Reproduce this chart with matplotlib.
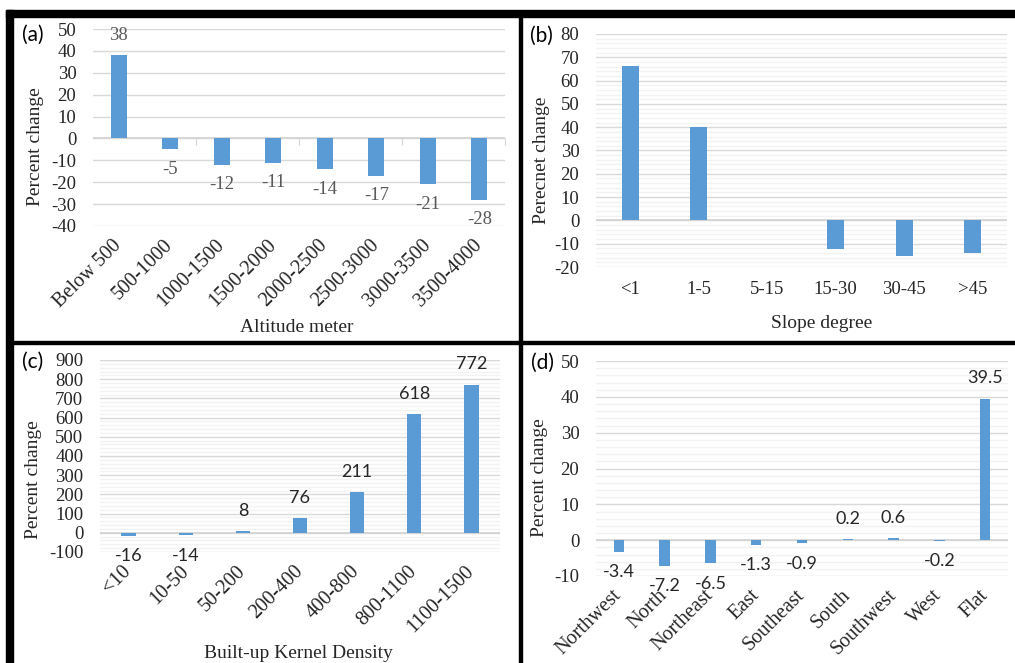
import numpy as np
import matplotlib.pyplot as plt
from matplotlib.patches import Rectangle
from matplotlib.ticker import MultipleLocator

# Panel (a): altitude classes
ALT_CATS = ['Below 500', '500-1000', '1000-1500', '1500-2000',
            '2000-2500', '2500-3000', '3000-3500', '3500-4000']
ALT_VALS = [38, -5, -12, -11, -14, -17, -21, -28]

# Panel (b): slope classes (no labels in the picture)
SLOPE_CATS = ['<1', '1-5', '5-15', '15-30', '30-45', '>45']
SLOPE_VALS = [66.3, 40.0, 0.0, -12.4, -15.2, -14.0]

# Panel (c): built-up kernel density
KD_CATS = ['<10', '10-50', '50-200', '200-400', '400-800', '800-1100', '1100-1500']
KD_VALS = [-16, -14, 8, 76, 211, 618, 772]

# Panel (d): aspect
ASP_CATS = ['Northwest', 'North', 'Northeast', 'East', 'Southeast',
            'South', 'Southwest', 'West', 'Flat']
ASP_VALS = [-3.4, -7.2, -6.5, -1.3, -0.9, 0.2, 0.6, -0.2, 39.5]

W, H = 1015, 663
BLUE = '#5B9BD5'
TXT = '#262626'
SERIF = 'Liberation Serif'
SANS = 'Lato'

plt.rcParams['axes.unicode_minus'] = False
plt.rcParams['font.family'] = SERIF

fig = plt.figure(figsize=(W / 100, H / 100), dpi=100)


def px_rect(x0, y0, x1, y1):
    """Pixel box (top-left origin) -> figure fraction rect"""
    return [x0 / W, 1 - y1 / H, (x1 - x0) / W, (y1 - y0) / H]


def fig_text(x, y, s, **kw):
    """Place text by pixel position"""
    fig.text(x / W, 1 - y / H, s, ha='center', va='center', **kw)


def bar_panel(rect, cats, vals, ylim, step, minor, bar_w, rotate):
    """Excel-like column chart"""
    ax = fig.add_axes(px_rect(*rect))
    x = np.arange(len(cats))
    ax.bar(x, vals, width=bar_w, color=BLUE, zorder=3)
    ax.set_xlim(-0.5, len(cats) - 0.5)
    ax.set_ylim(*ylim)
    ax.yaxis.set_major_locator(MultipleLocator(step))
    if minor:
        ax.yaxis.set_minor_locator(MultipleLocator(minor))
        ax.grid(which='minor', axis='y', color='#F2F2F2', lw=1)
    ax.grid(which='major', axis='y', color='#D9D9D9', lw=1)
    ax.set_axisbelow(True)
    for s in ax.spines.values():
        s.set_visible(False)
    ax.axhline(0, color='#D4D4D4', lw=1.3, zorder=2)
    ax.tick_params(axis='both', which='both', length=0)
    ax.tick_params(axis='y', pad=12, labelsize=13.5, labelcolor=TXT)
    ax.set_xticks(x)
    if rotate:
        ax.set_xticklabels(cats, rotation=45, ha='right', va='center',
                           rotation_mode='anchor', fontsize=14.5, color=TXT)
        ax.tick_params(axis='x', pad=12)
    else:
        ax.set_xticklabels(cats, fontsize=13.5, color=TXT)
        ax.tick_params(axis='x', pad=10)
    return ax


def value_labels(ax, vals, fmt, **kw):
    """Data labels outside the bar end"""
    for i, v in enumerate(vals):
        off = 14.5 if v > 0 else -14.5
        ax.annotate(fmt.format(v), (i, v), xytext=(0, off), textcoords='offset points',
                    ha='center', va='center', **kw)


# (a) Altitude
ax_a = bar_panel((93, 29, 505, 226), ALT_CATS, ALT_VALS, (-40, 50), 10, None, 0.32, True)
value_labels(ax_a, ALT_VALS, '{:d}', fontsize=13.5, color='#595959', family=SERIF)
# small tick marks on the horizontal axis
frac = 40 / 90
sec = ax_a.secondary_xaxis(frac)
sec.set_xticks(np.arange(1.5, len(ALT_CATS), 2))
sec.tick_params(axis='x', direction='out', length=5, color='#D4D4D4',
                bottom=True, top=False, labelbottom=False, labeltop=False)
for s in sec.spines.values():
    s.set_visible(False)

# (b) Slope
ax_b = bar_panel((596, 34, 1007, 267), SLOPE_CATS, SLOPE_VALS, (-20, 80), 10, 2, 0.25, False)

# (c) Kernel density
ax_c = bar_panel((100, 360, 500, 552), KD_CATS, KD_VALS, (-100, 900), 100, 20, 0.25, True)
value_labels(ax_c, KD_VALS, '{:d}', fontsize=13, color=TXT, family=SANS)

# (d) Aspect
ax_d = bar_panel((596, 361, 1008, 576), ASP_CATS, ASP_VALS, (-10, 50), 10, 2, 0.23, True)
value_labels(ax_d, ASP_VALS, '{:.1f}', fontsize=13, color=TXT, family=SANS)

# Axis titles
fig_text(35, 147, 'Percent change', rotation=90, fontsize=14, color=TXT)
fig_text(297, 327, 'Altitude meter', fontsize=14, color=TXT)
fig_text(541, 160, 'Perecnet change', rotation=90, fontsize=14, color=TXT)
fig_text(822, 323, 'Slope degree', fontsize=14, color=TXT)
fig_text(34, 480, 'Percent change', rotation=90, fontsize=14, color=TXT)
fig_text(298, 654, 'Built-up Kernel Density', fontsize=14, color=TXT)
fig_text(540, 478, 'Percent change', rotation=90, fontsize=14, color=TXT)

# Panel letters
fig_text(33, 35, '(a)', fontsize=15, family=SANS, color='black')
fig_text(541, 36, '(b)', fontsize=15, family=SANS, color='black')
fig_text(33, 362, '(c)', fontsize=15, family=SANS, color='black')
fig_text(542, 363, '(d)', fontsize=15, family=SANS, color='black')

# Black frame and dividers
for x0, y0, x1, y1 in [(6, 10, 1015, 17), (6, 10, 13, 663),
                       (518.5, 17, 521.5, 663), (13, 341, 1015, 343.5)]:
    fig.add_artist(Rectangle((x0 / W, 1 - y1 / H), (x1 - x0) / W, (y1 - y0) / H,
                             transform=fig.transFigure, color='black', zorder=10))

fig.savefig('out.png', dpi=100)
